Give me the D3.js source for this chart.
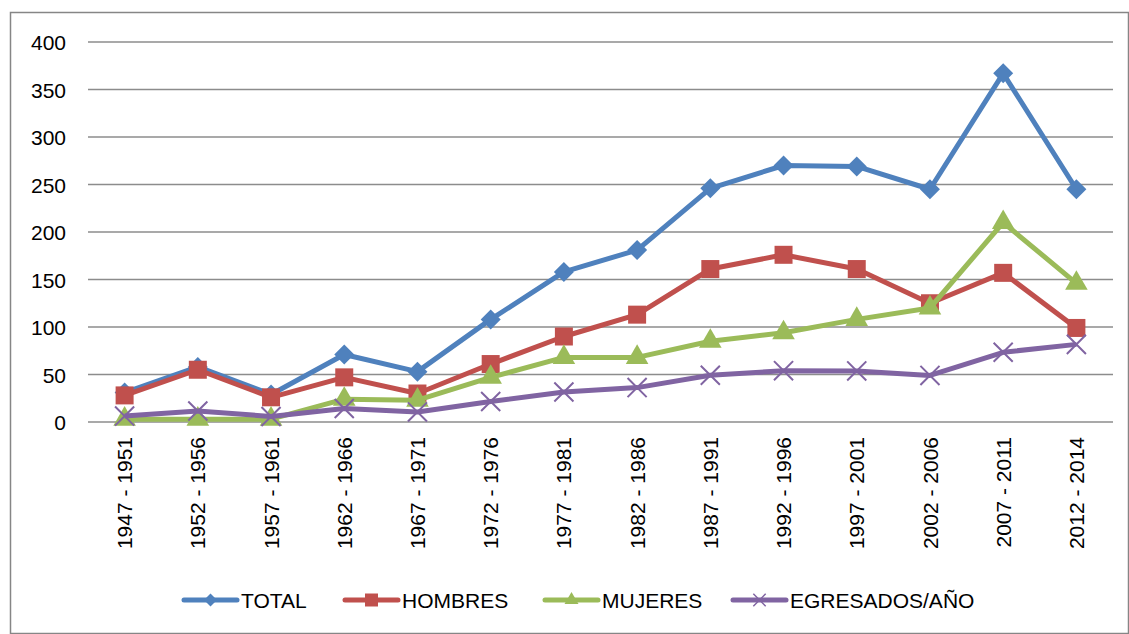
<!DOCTYPE html>
<html>
<head>
<meta charset="utf-8">
<script src="https://cdn.jsdelivr.net/npm/d3@7"></script>
<style>
  body { margin: 0; background: #fff; }
  svg { display: block; font-family: "Liberation Sans", Arial, sans-serif; }
</style>
</head>
<body>
<div id="chart"></div>
<script>
// datos
var periodos = ["1947 - 1951", "1952 - 1956", "1957 - 1961", "1962 - 1966", "1967 - 1971",
  "1972 - 1976", "1977 - 1981", "1982 - 1986", "1987 - 1991", "1992 - 1996",
  "1997 - 2001", "2002 - 2006", "2007 - 2011", "2012 - 2014"];
var total = [31, 58, 29, 71, 53, 108, 158, 181, 246, 270, 269, 245, 367, 245];
var hombres = [28, 55, 26, 47, 30, 61, 90, 113, 161, 176, 161, 125, 157, 99];
var mujeres = [3, 3, 3, 24, 23, 47, 68, 68, 85, 94, 108, 120, 210, 146];
var egresados = [6.2, 11.6, 5.8, 14.2, 10.6, 21.6, 31.6, 36.2, 49.2, 54, 53.8, 49, 73.4, 81.7];
var yTicks = [0, 50, 100, 150, 200, 250, 300, 350, 400];

var series = [
  { name: "TOTAL", values: total, color: "#4F81BD", marker: "diamond" },
  { name: "HOMBRES", values: hombres, color: "#C0504D", marker: "square" },
  { name: "MUJERES", values: mujeres, color: "#9BBB59", marker: "triangle" },
  { name: "EGRESADOS/AÑO", values: egresados, color: "#8064A2", marker: "x" }
];

var width = 1129, height = 634;
var plotLeft = 88, plotRight = 1113, plotTop = 42, plotBottom = 422;

var svg = d3.select("#chart").append("svg")
  .attr("width", width)
  .attr("height", height);

// borde del grafico
svg.append("rect")
  .attr("x", 10.5).attr("y", 12.5)
  .attr("width", 1118).attr("height", 621)
  .attr("fill", "none")
  .attr("stroke", "#868686")
  .attr("stroke-width", 1.5);

var x = d3.scaleBand().domain(periodos).range([plotLeft, plotRight]);
var y = d3.scaleLinear().domain([0, 400]).range([plotBottom, plotTop]);

// lineas de la grilla
svg.append("g")
  .selectAll("line")
  .data(yTicks)
  .enter()
  .append("line")
  .attr("x1", plotLeft).attr("x2", plotRight)
  .attr("y1", function(d) { return y(d); })
  .attr("y2", function(d) { return y(d); })
  .attr("stroke", "#8c8c8c")
  .attr("stroke-width", 1.5);

// eje y
var yAxis = d3.axisLeft(y).tickValues(yTicks).tickSize(0).tickPadding(0);
var gy = svg.append("g")
  .attr("transform", "translate(66,0)")
  .call(yAxis);
gy.select(".domain").remove();
gy.selectAll("text")
  .style("font-size", "21px")
  .style("fill", "#000")
  .attr("font-family", null)
  .attr("dy", "0.36em");

// eje x
var xAxis = d3.axisBottom(x).tickSize(0).tickPadding(0);
var gx = svg.append("g")
  .attr("transform", "translate(0," + plotBottom + ")")
  .call(xAxis);
gx.select(".domain").remove();
gx.selectAll("text")
  .style("font-size", "21px")
  .style("fill", "#000")
  .attr("font-family", null)
  .attr("text-anchor", "end")
  .attr("transform", "rotate(-90)")
  .attr("x", -15)
  .attr("y", 0)
  .attr("dy", "0.36em");

function markerPath(type, s) {
  if (type === "diamond") return d3.symbol(d3.symbolSquare, s * s * 0.5)();
  if (type === "square") return d3.symbol(d3.symbolSquare, s * s)();
  if (type === "triangle") return d3.symbol(d3.symbolTriangle, s * s * 0.5)();
  return d3.symbol(d3.symbolX, s * s * 0.6)();
}

var line = d3.line()
  .x(function(d, i) { return x(periodos[i]) + x.bandwidth() / 2; })
  .y(function(d) { return y(d); });

var markerSize = { diamond: 20, square: 18, triangle: 21, x: 20 };

series.forEach(function(s) {
  var g = svg.append("g");
  g.append("path")
    .datum(s.values)
    .attr("d", line)
    .attr("fill", "none")
    .attr("stroke", s.color)
    .attr("stroke-width", 5)
    .attr("stroke-linejoin", "round");

  g.selectAll(".mk")
    .data(s.values)
    .enter()
    .append("path")
    .attr("transform", function(d, i) {
      var t = "translate(" + (x(periodos[i]) + x.bandwidth() / 2) + "," + y(d) + ")";
      if (s.marker === "diamond") t += " rotate(45)";
      return t;
    })
    .attr("d", markerPath(s.marker, markerSize[s.marker]))
    .attr("fill", s.marker === "x" ? "none" : s.color)
    .attr("stroke", s.color)
    .attr("stroke-width", s.marker === "x" ? 2 : 0);
});

// leyenda
var legX = [184, 345, 545, 733];
var legY = 600;
series.forEach(function(s, i) {
  var g = svg.append("g").attr("transform", "translate(" + legX[i] + "," + legY + ")");
  g.append("line")
    .attr("x1", 0).attr("x2", 53)
    .attr("y1", 0).attr("y2", 0)
    .attr("stroke", s.color)
    .attr("stroke-width", 5)
    .attr("stroke-linecap", "round");
  g.append("path")
    .attr("transform", "translate(26.5,0)" + (s.marker === "diamond" ? " rotate(45)" : ""))
    .attr("d", markerPath(s.marker, 13))
    .attr("fill", s.marker === "x" ? "none" : s.color)
    .attr("stroke", s.color)
    .attr("stroke-width", s.marker === "x" ? 1.5 : 0);
  g.append("text")
    .attr("x", 57)
    .attr("y", 0)
    .attr("dy", "0.36em")
    .style("font-size", "21px")
    .text(s.name);
});
</script>
</body>
</html>
